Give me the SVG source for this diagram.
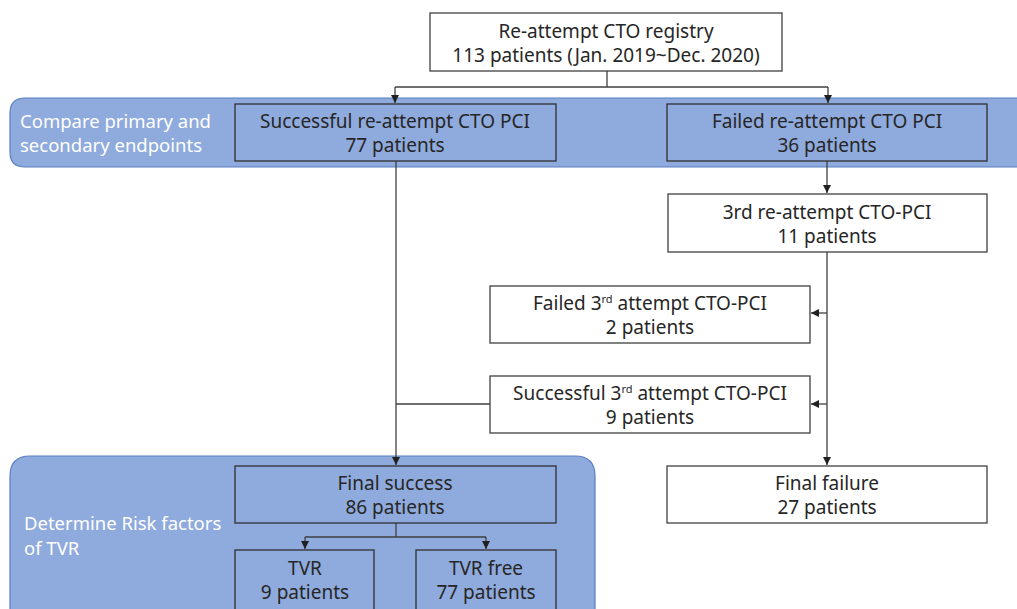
<svg xmlns="http://www.w3.org/2000/svg" width="1017" height="609" viewBox="0 0 1017 609">
<style>
.band{fill:#8FAADC;stroke:#5B7FC0;stroke-width:1.2}
.box{fill:#FFFFFF;stroke:#404040;stroke-width:1.3}
.bbox{fill:#8FAADC;stroke:#303030;stroke-width:1.3}
.t{font-family:"Noto Sans","Liberation Sans",sans-serif;font-size:19px;fill:#262626;text-anchor:middle}
.w{font-family:"Noto Sans","Liberation Sans",sans-serif;font-size:18.5px;fill:#FFFFFF}
.c{fill:none;stroke:#404040;stroke-width:1.3}
.sup{font-size:11px}
</style>
<defs>
<marker id="ah" viewBox="0 0 10 10" refX="10" refY="5" markerWidth="8" markerHeight="8" markerUnits="userSpaceOnUse" orient="auto">
<path d="M0,0 L10,5 L0,10 z" fill="#202020"/>
</marker>
</defs>
<g id="band1"><path class="band" d="M1030,98 H25 Q10,98 10,113 V152 Q10,167 25,167 H1030 Z"/>
<text class="w" x="20" y="128">Compare primary and</text>
<text class="w" x="20" y="152">secondary endpoints</text></g>
<g id="band2"><path class="band" d="M595,620 V476 Q595,456 575,456 H30 Q10,456 10,476 V620 Z"/>
<text class="w" x="24" y="530">Determine Risk factors</text>
<text class="w" x="24" y="555">of TVR</text></g>
<g id="connectors">
<path class="c" d="M607,71 V87 M395,87 H828"/>
<path class="c" d="M395,87 V103" marker-end="url(#ah)"/>
<path class="c" d="M828,87 V103" marker-end="url(#ah)"/>
<path class="c" d="M827,161 V193" marker-end="url(#ah)"/>
<path class="c" d="M827,252 V465" marker-end="url(#ah)"/>
<path class="c" d="M827,313 H811" marker-end="url(#ah)"/>
<path class="c" d="M827,404 H811" marker-end="url(#ah)"/>
<path class="c" d="M396,161 V465" marker-end="url(#ah)"/>
<path class="c" d="M396,404 H490"/>
<path class="c" d="M396,523 V537 M305,537 H486"/>
<path class="c" d="M305,537 V549" marker-end="url(#ah)"/>
<path class="c" d="M486,537 V549" marker-end="url(#ah)"/>
</g>
<g id="registry"><rect class="box" x="430" y="13" width="352" height="58"/>
<text class="t" x="606" y="38">Re-attempt CTO registry</text>
<text class="t" x="606" y="62">113 patients (Jan. 2019~Dec. 2020)</text></g>
<g id="success1"><rect class="bbox" x="235" y="104" width="321" height="57"/>
<text class="t" x="395" y="128">Successful re-attempt CTO PCI</text>
<text class="t" x="395" y="152">77 patients</text></g>
<g id="failed1"><rect class="bbox" x="667" y="104" width="320" height="57"/>
<text class="t" x="827" y="128">Failed re-attempt CTO PCI</text>
<text class="t" x="827" y="152">36 patients</text></g>
<g id="third"><rect class="box" x="668" y="194" width="319" height="58"/>
<text class="t" x="827" y="219">3rd re-attempt CTO-PCI</text>
<text class="t" x="827" y="243">11 patients</text></g>
<g id="failed3"><rect class="box" x="490" y="286" width="320" height="57"/>
<text class="t" x="650" y="310">Failed 3<tspan class="sup" dy="-7">rd</tspan><tspan dy="7"> attempt CTO-PCI</tspan></text>
<text class="t" x="650" y="334">2 patients</text></g>
<g id="success3"><rect class="box" x="490" y="376" width="320" height="57"/>
<text class="t" x="650" y="400">Successful 3<tspan class="sup" dy="-7">rd</tspan><tspan dy="7"> attempt CTO-PCI</tspan></text>
<text class="t" x="650" y="424">9 patients</text></g>
<g id="finalsuccess"><rect class="bbox" x="235" y="466" width="321" height="57"/>
<text class="t" x="395" y="490">Final success</text>
<text class="t" x="395" y="514">86 patients</text></g>
<g id="finalfailure"><rect class="box" x="667" y="466" width="320" height="57"/>
<text class="t" x="827" y="490">Final failure</text>
<text class="t" x="827" y="514">27 patients</text></g>
<g id="tvr"><rect class="bbox" x="235" y="550" width="139" height="70"/>
<text class="t" x="305" y="575">TVR</text>
<text class="t" x="305" y="599">9 patients</text></g>
<g id="tvrfree"><rect class="bbox" x="416" y="550" width="140" height="70"/>
<text class="t" x="486" y="575">TVR free</text>
<text class="t" x="486" y="599">77 patients</text></g>
</svg>
